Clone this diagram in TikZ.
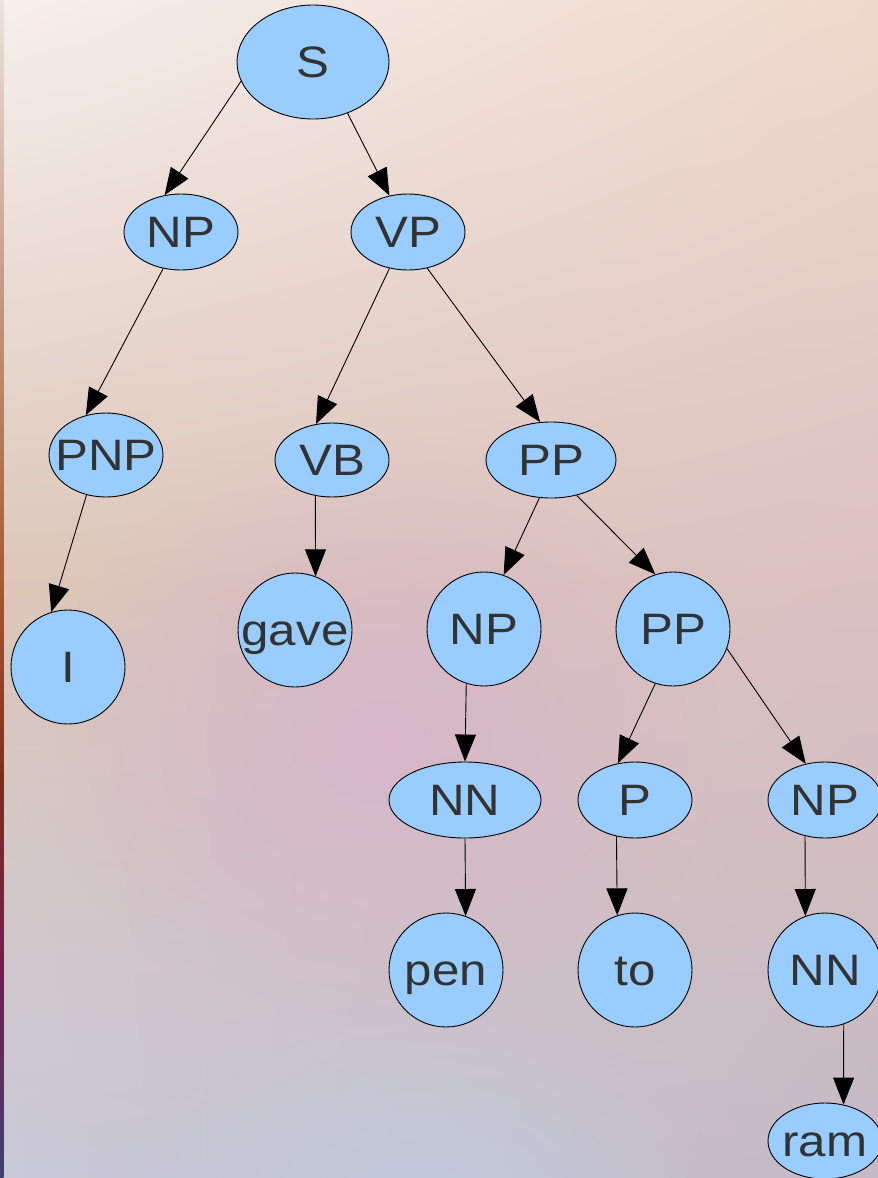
\documentclass[tikz,border=0pt]{standalone}
\usepackage{fontspec}
\newfontfamily\lab[FakeStretch=1.12]{Liberation Sans}
\usetikzlibrary{shapes.geometric,arrows.meta,fadings,shadings}

\definecolor{nodeblue}{HTML}{99CCFF}
\definecolor{txtgrey}{HTML}{333333}
\definecolor{bgTL}{HTML}{F6EFEC}
\definecolor{bgTR}{HTML}{EFD8CB}
\definecolor{bgML}{HTML}{DCC6B8}
\definecolor{bgMR}{HTML}{DBC0C0}
\definecolor{bgBL}{HTML}{C8C8D8}
\definecolor{bgBR}{HTML}{C4B9C4}
\definecolor{blobpink}{HTML}{D6B2CC}
\definecolor{blobblue}{HTML}{BFCDE0}
\definecolor{stripeA}{HTML}{404070}
\definecolor{stripeB}{HTML}{702050}
\definecolor{stripeC}{HTML}{802A20}
\definecolor{stripeD}{HTML}{A85A30}
\definecolor{stripeE}{HTML}{C09078}
\definecolor{stripeF}{HTML}{EEE2DC}

\tikzfading[name=blobfade, inner color=transparent!25, outer color=transparent!100]

\tikzset{
  tree/.style={ellipse, draw=black, line width=0.9pt, fill=nodeblue,
    inner sep=0pt, minimum width=114pt, minimum height=76pt},
  lbl/.style={font=\lab\fontsize{44}{50}\selectfont, text=txtgrey,
    text height=31.5pt, text depth=0pt, inner sep=0pt},
  word/.style={label={[lbl]center:#1}},
  edge/.style={line width=0.9pt, -{Triangle[length=27pt,width=21pt]}}
}

\begin{document}
\begin{tikzpicture}[x=1pt,y=-1pt]
\useasboundingbox (0,0) rectangle (878,1178);
\clip (0,0) rectangle (878,1178);

% background
\shade[upper left=bgTL, upper right=bgTR, lower left=bgML, lower right=bgMR]
  (0,0) rectangle (878,590);
\shade[upper left=bgML, upper right=bgMR, lower left=bgBL, lower right=bgBR]
  (0,590) rectangle (878,1178);
\fill[blobpink, path fading=blobfade] (380,740) ellipse (340 and 300);
\fill[blobblue, path fading=blobfade] (420,1200) ellipse (300 and 200);

% coloured strip along the left edge
\shade[top color=stripeF, bottom color=stripeE] (0,0) rectangle (3.5,330);
\shade[top color=stripeE, bottom color=stripeD] (0,329.5) rectangle (3.5,580);
\shade[top color=stripeD, bottom color=stripeC] (0,579.5) rectangle (3.5,780);
\shade[top color=stripeC, bottom color=stripeB] (0,779.5) rectangle (3.5,980);
\shade[top color=stripeB, bottom color=stripeA] (0,979.5) rectangle (3.5,1178);

% tree nodes
\node[tree, minimum width=152pt, minimum height=114pt, word=S] (S) at (313,62) {};
\node[tree, word=NP] (np1) at (181,232) {};
\node[tree, word=VP] (vp) at (408,232) {};
\node[tree, minimum height=84pt, word=PNP] (pnp) at (106,455) {};
\node[tree, minimum height=74pt, word=VB] (vb) at (332,460) {};
\node[tree, minimum width=130pt, word=PP] (pp1) at (551,460) {};
\node[tree, minimum height=114pt, word=I] (i) at (68,667) {};
\node[tree, minimum height=114pt, word=gave] (gave) at (295,630) {};
\node[tree, minimum height=114pt, word=NP] (np2) at (484,629) {};
\node[tree, minimum height=114pt, word=PP] (pp2) at (673,629) {};
\node[tree, minimum width=152pt, word=NN] (nn1) at (465,800) {};
\node[tree, word=P] (p) at (635,800) {};
\node[tree, word=NP] (np3) at (825,800) {};
\node[tree, minimum height=114pt, word=pen] (pen) at (446,970) {};
\node[tree, minimum height=114pt, word=to] (to) at (635,970) {};
\node[tree, minimum height=114pt, word=NN] (nn2) at (825,970) {};
\node[tree, word=ram] (ram) at (825,1141) {};

% edges
\draw[edge] (S.195) -- (np1.114);
\draw[edge] (S.-56) -- (vp.117);
\draw[edge] (np1.244) -- (pnp.117);
\draw[edge] (vp.243) -- (vb.114);
\draw[edge] (vp.-62) -- (pp1.106);
\draw[edge] (pnp.244) -- (i.107);
\draw[edge] (vb.245) -- (gave.69);
\draw[edge] (pp1.253) -- (np2.70);
\draw[edge] (pp1.306) -- (pp2.108);
\draw[edge] (np2.252) -- (nn1.90);
\draw[edge] (pp2.252) -- (p.115);
\draw[edge] (pp2.-20) -- (np3.118);
\draw[edge] (nn1.270) -- (pen.70.5);
\draw[edge] (p.243) -- (to.108);
\draw[edge] (np3.241) -- (nn2.110.5);
\draw[edge] (nn2.-71.6) -- (ram.63.4);
\end{tikzpicture}
\end{document}
